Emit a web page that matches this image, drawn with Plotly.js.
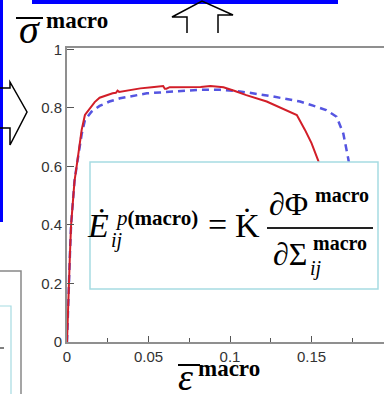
<!DOCTYPE html>
<html>
<head>
<meta charset="utf-8">
<script src="https://cdn.plot.ly/plotly-3.0.1.min.js"></script>
<style>
html,body{margin:0;padding:0;overflow:hidden;background:#fff;}
#chart{width:400px;height:394px;}
</style>
</head>
<body>
<div id="chart"></div>
<script>
// ---- data ----
const redStrain = [0, 0.0005, 0.001, 0.0018, 0.0025, 0.0035, 0.0046, 0.0059, 0.0075, 0.009, 0.011, 0.014, 0.017, 0.020, 0.024, 0.028, 0.030, 0.031, 0.032, 0.038, 0.045, 0.052, 0.059, 0.060, 0.061, 0.063, 0.069, 0.076, 0.082, 0.088, 0.096, 0.103, 0.110, 0.1225, 0.1286, 0.135, 0.141, 0.146, 0.150, 0.154, 0.158, 0.162];
const redStress = [0, 0.1, 0.2, 0.3, 0.4, 0.48, 0.55, 0.6, 0.67, 0.725, 0.776, 0.8, 0.82, 0.835, 0.843, 0.85, 0.852, 0.859, 0.855, 0.861, 0.867, 0.871, 0.875, 0.866, 0.866, 0.871, 0.871, 0.872, 0.872, 0.875, 0.871, 0.858, 0.844, 0.822, 0.807, 0.792, 0.776, 0.725, 0.68, 0.622, 0.55, 0.48];
const blueStrain = [0, 0.0005, 0.001, 0.0018, 0.0025, 0.0035, 0.0046, 0.0059, 0.0075, 0.009, 0.011, 0.015, 0.020, 0.026, 0.0325, 0.041, 0.049, 0.057, 0.067, 0.073, 0.082, 0.094, 0.103, 0.112, 0.1266, 0.135, 0.143, 0.151, 0.159, 0.1654, 0.1695, 0.1725, 0.175, 0.177];
const blueStress = [0, 0.1, 0.2, 0.3, 0.4, 0.48, 0.55, 0.6, 0.66, 0.71, 0.759, 0.787, 0.807, 0.822, 0.833, 0.842, 0.850, 0.853, 0.858, 0.859, 0.862, 0.862, 0.858, 0.852, 0.839, 0.831, 0.822, 0.808, 0.793, 0.770, 0.713, 0.628, 0.55, 0.48];
const xTickVals = [0, 0.05, 0.1, 0.15, 0.2];
const xTickText = ['0', '0.05', '0.1', '0.15', '0.2'];
const yTickVals = [0, 0.2, 0.4, 0.6, 0.8, 1];
const yTickText = ['0', '0.2', '0.4', '0.6', '0.8', '1'];

// ---- pixel -> paper helpers (plot area 67..393 x 48..342) ----
const L = 67, T = 48, W = 326, H = 294;
const X = p => (p - L) / W;
const Y = p => (T + H - p) / H;

const traces = [
  {x: blueStrain, y: blueStress, type: 'scatter', mode: 'lines', line: {color: 'rgb(85,85,225)', width: 2.5, dash: '7px,5px'}, hoverinfo: 'skip'},
  {x: redStrain, y: redStress, type: 'scatter', mode: 'lines', line: {color: 'rgb(210,30,40)', width: 2}, hoverinfo: 'skip'}
];

const line = (x0, y0, x1, y1, color, width) => ({type: 'line', xref: 'paper', yref: 'paper',
  x0: X(x0), y0: Y(y0), x1: X(x1), y1: Y(y1), line: {color: color, width: width}, layer: 'above'});
const rect = (x0, y0, x1, y1, stroke, width, fill) => ({type: 'rect', xref: 'paper', yref: 'paper',
  x0: X(x0), y0: Y(y0), x1: X(x1), y1: Y(y1), line: {color: stroke, width: width}, fillcolor: fill, layer: 'above'});
const path = (pts, color, width) => ({type: 'path', xref: 'paper', yref: 'paper',
  path: 'M' + pts.map(p => X(p[0]) + ',' + Y(p[1])).join(' L'), line: {color: color, width: width}, layer: 'above'});

const shapes = [
  rect(90, 162, 378, 289, '#a6dbe2', 1.5, '#ffffff'),
  line(267, 228, 373, 228, '#222', 2),
  line(16, 18, 43, 18, '#000', 2),
  line(178, 365, 200, 365, '#000', 2),
  rect(-2, -2, 3, 222, '#0000ff', 0, '#0000ff'),
  rect(32, -2, 338, 4, '#0000ff', 0, '#0000ff'),
  path([[187, 33], [187, 17], [172, 17], [202, 1], [233, 15], [218, 15], [218, 33]], '#000', 1.5),
  path([[0, 88], [10, 88], [10, 82], [27, 112], [10, 145], [10, 128], [0, 128]], '#000', 1.5),
  rect(-5, 271, 21, 400, '#888', 1.5, 'rgba(0,0,0,0)'),
  rect(-5, 306, 11, 400, '#a6dbe2', 1.2, 'rgba(0,0,0,0)'),
  line(0, 348, 4, 348, '#000', 1)
];

const serif = 'Liberation Serif, Times New Roman, serif';
const ann = (text, x, y, size, xanchor) => ({
  text: text, xref: 'paper', yref: 'paper', x: X(x), y: Y(y), xanchor: xanchor || 'center', yanchor: 'middle',
  showarrow: false, font: {family: serif, size: size, color: '#000'}, borderpad: 0
});

const annotations = [
  ann('<i>σ</i>', 29, 29.5, 40),
  ann('<b>macro</b>', 45, 20.5, 23, 'left'),
  ann('<i>ε</i>', 185, 377, 38),
  ann('<b>macro</b>', 197, 368, 23, 'left'),
  ann('<i>Ė</i>', 98, 225.5, 34),
  ann('<i>ij</i>', 110, 240, 20, 'left'),
  ann('<i>p</i><b>(macro)</b>', 114, 218, 21, 'left'),
  ann('=', 217, 224, 34),
  ann('K\u0307', 247, 225.5, 34),
  ann('∂Φ', 268, 203.5, 32, 'left'),
  ann('<b>macro</b>', 314, 195, 20, 'left'),
  ann('∂Σ', 272, 254, 32, 'left'),
  ann('<b>macro</b>', 312, 243, 20, 'left'),
  ann('<i>ij</i>', 309, 268, 20, 'left')
];

const axisCommon = {
  showgrid: false, zeroline: false, showline: true, linecolor: '#8f8f8f', linewidth: 2, mirror: true,
  ticks: 'inside', tickcolor: '#555', tickwidth: 1,
  tickfont: {family: 'Liberation Sans, Arial, sans-serif', size: 15, color: '#333'}, fixedrange: true
};

const layout = {
  width: 400, height: 394,
  margin: {l: L, r: 400 - L - W, t: T, b: 394 - T - H, pad: 0},
  paper_bgcolor: '#fff', plot_bgcolor: '#fff', showlegend: false,
  xaxis: Object.assign({}, axisCommon, {range: [0, 0.2], tickvals: xTickVals, ticktext: xTickText, ticklen: 6,
    minor: {tickvals: [0.025, 0.075, 0.125, 0.175], ticklen: 4, ticks: 'inside', tickcolor: '#555'}}),
  yaxis: Object.assign({}, axisCommon, {range: [0, 1.005], tickvals: yTickVals, ticktext: yTickText, ticklen: 7}),
  shapes: shapes, annotations: annotations
};

Plotly.newPlot('chart', traces, layout, {displayModeBar: false, staticPlot: true});
</script>
</body>
</html>
